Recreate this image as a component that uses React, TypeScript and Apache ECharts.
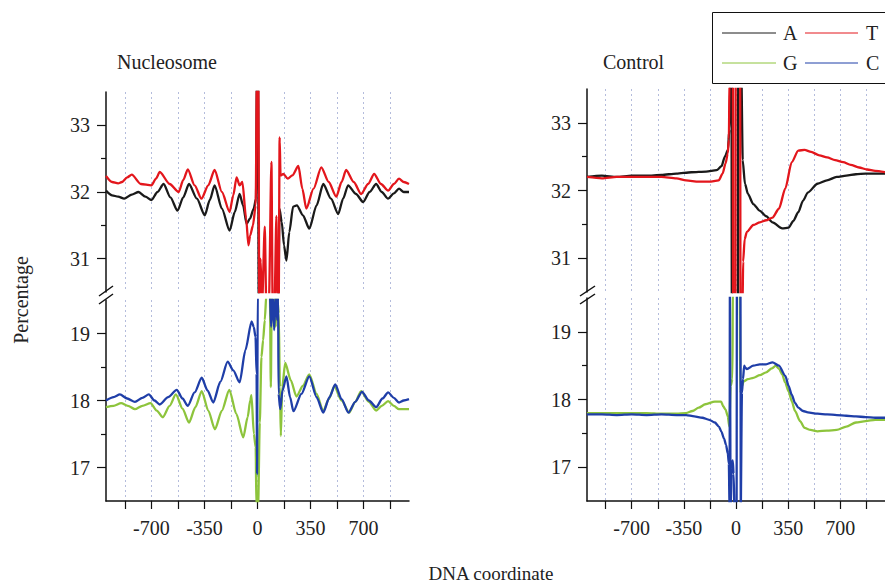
import React, { useEffect, useRef } from "react";
import * as echarts from "echarts";

// ---- axis ticks / labels ----
const X_TICKS = [-875, -700, -525, -350, -175, 0, 175, 350, 525, 700, 875];
const X_LABELS = [-700, -350, 0, 350, 700];
const AT_MAJOR = [31, 32, 33];
const AT_MINOR = [31.5, 32.5];
const GC_MAJOR = [17, 18, 19];
const GC_MINOR = [17.5, 18.5];

const BASES = ["A", "T", "G", "C"];
const COLORS = { A: "#1a1a1a", T: "#e3161c", G: "#8dc43c", C: "#1f3ea8" };

// ---- Nucleosome panel ----
const nucA: number[][] = [
  [-1000, 32.02], [-960, 31.95], [-920, 31.93], [-880, 31.9], [-830, 31.96], [-785, 32.0], [-740, 31.93],
  [-700, 31.88], [-660, 32.0], [-620, 32.12], [-575, 31.92], [-528, 31.72], [-490, 31.92], [-452, 32.12],
  [-400, 31.9], [-348, 31.65], [-315, 31.88], [-283, 32.1], [-235, 31.75], [-184, 31.42], [-150, 31.7],
  [-118, 31.97], [-95, 31.8], [-72, 31.52], [-50, 31.6], [-25, 31.75], [-10, 31.9], [-4, 33.7], [4, 33.7],
  [8, 30.3], [138, 30.3], [145, 31.75], [160, 31.55], [175, 31.2], [191, 30.97], [210, 31.4], [235, 31.78],
  [260, 31.8], [300, 31.65], [342, 31.45], [390, 31.8], [434, 32.12], [485, 31.9], [533, 31.67], [565, 31.9],
  [598, 32.1], [650, 31.97], [697, 31.85], [740, 32.0], [783, 32.12], [820, 32.0], [862, 31.9], [900, 31.98],
  [934, 32.05], [965, 32.0], [1000, 32.0],
];
const nucT: number[][] = [
  [-1000, 32.24], [-960, 32.15], [-920, 32.13], [-895, 32.15], [-860, 32.22], [-830, 32.26], [-770, 32.12],
  [-700, 32.1], [-670, 32.2], [-645, 32.3], [-580, 32.12], [-520, 32.0], [-490, 32.18], [-460, 32.34],
  [-415, 32.1], [-370, 31.9], [-325, 32.1], [-283, 32.33], [-235, 32.0], [-184, 31.7], [-160, 31.95],
  [-138, 32.22], [-118, 32.1], [-100, 32.15], [-75, 31.6], [-60, 31.2], [-48, 31.35], [-30, 31.5],
  [-12, 31.8], [-4, 33.7], [5, 33.7], [12, 30.3], [20, 31.0], [30, 30.3], [48, 31.48], [58, 30.3],
  [75, 30.3], [92, 32.45], [100, 30.3], [112, 30.3], [125, 31.64], [132, 30.3], [140, 30.3], [146, 32.82],
  [152, 32.25], [171, 32.27], [200, 32.2], [230, 32.25], [270, 32.39], [296, 32.05], [322, 31.75],
  [370, 32.05], [421, 32.37], [470, 32.15], [520, 31.93], [555, 32.15], [585, 32.33], [635, 32.15],
  [684, 31.97], [730, 32.12], [770, 32.27], [815, 32.12], [862, 32.02], [900, 32.12], [934, 32.2],
  [965, 32.15], [1000, 32.12],
];
const nucG: number[][] = [
  [-1000, 17.9], [-950, 17.92], [-900, 17.96], [-855, 17.92], [-809, 17.87], [-760, 17.92], [-706, 17.96],
  [-665, 17.85], [-625, 17.75], [-580, 17.92], [-539, 18.09], [-495, 17.88], [-452, 17.67], [-410, 17.9],
  [-368, 18.14], [-325, 17.85], [-281, 17.57], [-235, 17.85], [-186, 18.16], [-140, 17.8], [-94, 17.45],
  [-65, 17.75], [-48, 18.0], [-40, 18.08], [-24, 17.5], [-12, 17.3], [-7, 16.4], [4, 16.4], [15, 17.67],
  [26, 18.65], [37, 18.9], [48, 19.2], [59, 19.6], [82, 19.6], [88, 18.2], [94, 19.6], [115, 19.6],
  [120, 19.1], [128, 19.6], [140, 19.3], [148, 18.2], [154, 17.47], [163, 18.2], [183, 18.56], [220, 18.3],
  [257, 18.06], [300, 18.22], [342, 18.39], [390, 18.1], [434, 17.84], [470, 18.02], [507, 18.21],
  [555, 18.0], [605, 17.82], [645, 17.98], [684, 18.14], [735, 17.98], [783, 17.85], [820, 17.92],
  [862, 17.99], [900, 17.92], [934, 17.87], [1000, 17.87],
];
const nucC: number[][] = [
  [-1000, 18.0], [-950, 18.05], [-908, 18.09], [-860, 18.03], [-809, 17.98], [-760, 18.04], [-717, 18.09],
  [-680, 18.0], [-645, 17.94], [-590, 18.05], [-533, 18.16], [-495, 18.03], [-460, 17.92], [-415, 18.12],
  [-368, 18.34], [-330, 18.15], [-292, 17.97], [-245, 18.28], [-197, 18.58], [-160, 18.45], [-118, 18.27],
  [-80, 18.75], [-39, 19.18], [-25, 19.1], [-13, 18.95], [-6, 18.4], [-3, 16.9], [0, 16.9], [2, 19.7],
  [80, 19.7], [90, 19.1], [100, 19.6], [110, 19.05], [120, 19.6], [130, 19.2], [136, 19.6], [139, 18.1],
  [150, 17.87], [165, 18.15], [191, 18.36], [215, 18.05], [237, 17.84], [290, 18.1], [342, 18.36],
  [390, 18.05], [434, 17.82], [475, 18.05], [513, 18.24], [555, 18.02], [600, 17.82], [645, 17.98],
  [690, 18.13], [735, 18.0], [783, 17.9], [825, 18.03], [862, 18.12], [900, 18.04], [934, 17.97],
  [965, 18.0], [1000, 18.02],
];

// ---- Control panel ----
const ctlA: number[][] = [
  [-1000, 32.2], [-900, 32.22], [-800, 32.2], [-700, 32.22], [-600, 32.22], [-500, 32.23], [-400, 32.25],
  [-300, 32.27], [-200, 32.28], [-130, 32.3], [-97, 32.36], [-75, 32.5], [-54, 32.6], [-45, 32.9],
  [-36, 33.7], [-30, 33.7], [-28, 30.3], [13, 30.3], [15, 33.7], [36, 33.7], [45, 32.45], [60, 32.1],
  [80, 31.95], [116, 31.8], [160, 31.7], [202, 31.62], [245, 31.53], [310, 31.44], [353, 31.45],
  [385, 31.55], [418, 31.68], [450, 31.85], [482, 31.97], [547, 32.1], [610, 32.15], [676, 32.2],
  [740, 32.22], [805, 32.24], [870, 32.25], [934, 32.25], [1000, 32.25],
];
const ctlT: number[][] = [
  [-1000, 32.2], [-900, 32.18], [-800, 32.2], [-700, 32.2], [-600, 32.2], [-500, 32.2], [-400, 32.18],
  [-335, 32.15], [-250, 32.13], [-180, 32.13], [-116, 32.15], [-90, 32.25], [-70, 32.4], [-55, 32.55],
  [-48, 32.75], [-43, 33.7], [-21, 33.7], [-19, 30.3], [-4, 30.3], [-2, 33.7], [28, 33.7], [30, 30.3],
  [44, 30.3], [48, 30.95], [58, 31.28], [73, 31.39], [116, 31.49], [160, 31.53], [202, 31.56],
  [245, 31.6], [288, 31.73], [331, 32.03], [374, 32.42], [418, 32.59], [460, 32.6], [504, 32.57],
  [560, 32.52], [611, 32.49], [665, 32.45], [719, 32.42], [770, 32.38], [826, 32.34], [880, 32.31],
  [934, 32.29], [1000, 32.27],
];
const ctlG: number[][] = [
  [-1000, 17.8], [-900, 17.8], [-800, 17.8], [-700, 17.8], [-600, 17.8], [-500, 17.79], [-400, 17.79],
  [-335, 17.8], [-292, 17.83], [-250, 17.88], [-206, 17.93], [-142, 17.97], [-100, 17.97], [-86, 17.9],
  [-70, 17.85], [-55, 17.75], [-45, 17.6], [-36, 18.2], [-24, 18.3], [-21, 19.7], [26, 19.7], [28, 18.1],
  [40, 18.2], [52, 18.27], [80, 18.3], [116, 18.32], [160, 18.36], [202, 18.4], [240, 18.46],
  [267, 18.5], [290, 18.45], [310, 18.37], [330, 18.25], [353, 18.12], [375, 17.97], [396, 17.83],
  [430, 17.68], [460, 17.58], [500, 17.55], [547, 17.53], [610, 17.54], [676, 17.55], [740, 17.6],
  [805, 17.66], [870, 17.68], [934, 17.7], [1000, 17.7],
];
const ctlC: number[][] = [
  [-1000, 17.78], [-900, 17.78], [-800, 17.77], [-700, 17.78], [-600, 17.77], [-500, 17.78], [-400, 17.77],
  [-335, 17.77], [-280, 17.75], [-226, 17.73], [-180, 17.7], [-142, 17.66], [-115, 17.6], [-99, 17.53],
  [-80, 17.42], [-67, 17.33], [-55, 17.2], [-48, 17.05], [-43, 16.3], [-41, 19.7], [-38, 19.7],
  [-36, 16.3], [-30, 17.0], [-22, 17.1], [-16, 16.9], [-10, 16.3], [4, 16.3], [6, 19.7], [30, 19.7],
  [32, 16.3], [36, 16.3], [40, 18.1], [47, 18.3], [55, 18.5], [62, 18.47], [73, 18.45], [116, 18.5],
  [160, 18.52], [202, 18.52], [245, 18.55], [288, 18.5], [331, 18.35], [353, 18.2], [374, 18.07],
  [396, 17.95], [418, 17.88], [450, 17.83], [482, 17.81], [547, 17.79], [611, 17.78], [676, 17.77],
  [740, 17.76], [805, 17.75], [870, 17.74], [934, 17.73], [1000, 17.73],
];

const FONT = "'Liberation Serif', 'DejaVu Serif', serif";
const TXT = "#222";

export default function App() {
  const ref = useRef<HTMLDivElement>(null);
  useEffect(() => {
    if (!ref.current) return;
    const chart = echarts.init(ref.current, undefined, { renderer: "svg" });

    const grids = [
      { left: 106, top: 92, width: 303, height: 200 },
      { left: 106, top: 300, width: 303, height: 201 },
      { left: 587, top: 89, width: 304, height: 203 },
      { left: 587, top: 298, width: 304, height: 203 },
    ];

    const split = { show: true, lineStyle: { color: "#b4bcdc", type: [2, 3], width: 1 } };

    const xAxes = grids.map((_, i) => {
      const lower = i % 2 === 1;
      return {
        type: "value",
        gridIndex: i,
        min: -1000,
        max: 1000,
        axisLine: { show: lower, onZero: false, lineStyle: { color: "#111", width: 1.5 } },
        axisTick: { show: lower, customValues: X_TICKS, length: 8, lineStyle: { color: "#111", width: 1.2 } },
        axisLabel: {
          show: lower,
          customValues: X_LABELS,
          fontSize: 20,
          fontFamily: FONT,
          color: TXT,
          margin: 17,
        },
        splitLine: split,
      };
    });

    const yAxes: any[] = [];
    grids.forEach((_, i) => {
      const upper = i % 2 === 0;
      const min = upper ? 30.5 : 16.5;
      const max = upper ? 33.5 : 19.5;
      yAxes.push({
        type: "value",
        gridIndex: i,
        position: "left",
        min,
        max,
        axisLine: { show: true, onZero: false, lineStyle: { color: "#111", width: 1.5 } },
        axisTick: { show: true, customValues: upper ? AT_MAJOR : GC_MAJOR, length: 9, lineStyle: { color: "#111", width: 1.2 } },
        axisLabel: {
          show: true,
          customValues: upper ? AT_MAJOR : GC_MAJOR,
          fontSize: 20,
          fontFamily: FONT,
          color: TXT,
          margin: 16,
        },
        splitLine: { show: false },
      });
      yAxes.push({
        type: "value",
        gridIndex: i,
        position: "left",
        offset: 0,
        min,
        max,
        axisLine: { show: false, onZero: false },
        axisTick: { show: true, customValues: upper ? AT_MINOR : GC_MINOR, length: 5, lineStyle: { color: "#111", width: 1.2 } },
        axisLabel: { show: false },
        splitLine: { show: false },
      });
    });

    const mk = (name: string, data: number[][], g: number) => ({
      name,
      type: "line",
      xAxisIndex: g,
      yAxisIndex: g * 2,
      data,
      showSymbol: false,
      symbol: "none",
      clip: true,
      smooth: 0.25,
      smoothMonotone: "x",
      lineStyle: { color: (COLORS as any)[name], width: 2.3 },
      itemStyle: { color: (COLORS as any)[name] },
    });

    const series = [
      mk("A", nucA, 0),
      mk("T", nucT, 0),
      mk("G", nucG, 1),
      mk("C", nucC, 1),
      mk("A", ctlA, 2),
      mk("T", ctlT, 2),
      mk("G", ctlG, 3),
      mk("C", ctlC, 3),
    ];

    const slash = (x1: number, y1: number, x2: number, y2: number) => ({
      type: "line",
      shape: { x1, y1, x2, y2 },
      style: { stroke: "#111", lineWidth: 1.5 },
    });
    const txt = (text: string, x: number, y: number, align = "left", extra: any = {}, size = 20) => ({
      type: "text",
      x,
      y,
      ...extra,
      style: { text, fontSize: size, fontFamily: FONT, fill: TXT, align, verticalAlign: "middle" },
    });
    const legLine = (x1: number, x2: number, y: number, color: string) => ({
      type: "line",
      shape: { x1, y1: y, x2, y2: y },
      style: { stroke: color, lineWidth: 1 },
    });

    const graphic: any[] = [
      txt("Nucleosome", 117, 62),
      txt("Control", 603, 62),
      txt("Percentage", 21, 300, "center", { rotation: Math.PI / 2 }),
      txt("DNA coordinate", 491, 573, "center", {}, 19),
      slash(99, 296, 113, 286),
      slash(99, 304, 113, 294),
      slash(580, 296, 595, 286),
      slash(580, 304, 595, 294),
      {
        type: "rect",
        shape: { x: 712.5, y: 12.5, width: 200, height: 71 },
        style: { fill: "#fff", stroke: "#111", lineWidth: 1 },
      },
      legLine(722, 776, 33, COLORS.A),
      txt(BASES[0], 783, 33),
      legLine(805, 858, 33, COLORS.T),
      txt(BASES[1], 866, 33),
      legLine(722, 776, 63, COLORS.G),
      txt(BASES[2], 783, 63),
      legLine(805, 858, 63, COLORS.C),
      txt(BASES[3], 866, 63),
    ];

    chart.setOption({
      animation: false,
      backgroundColor: "#fff",
      grid: grids,
      xAxis: xAxes,
      yAxis: yAxes,
      series,
      graphic,
    });
    return () => chart.dispose();
  }, []);

  return <div ref={ref} style={{ position: "absolute", left: 0, top: 0, width: 885, height: 584 }} />;
}
